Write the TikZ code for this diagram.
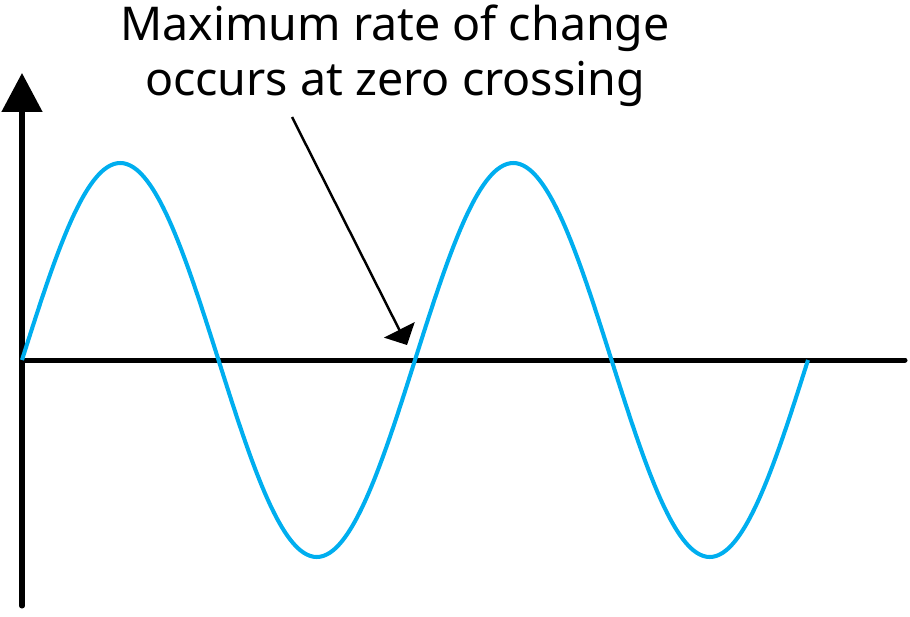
\documentclass[tikz,border=0pt]{standalone}
\usepackage{fontspec}
\setmainfont{Noto Sans}
\usetikzlibrary{arrows.meta}
\definecolor{wave}{HTML}{00AEEF}
\begin{document}
\begin{tikzpicture}[x=0.02cm,y=-0.02cm,
	axis/.style={line width=2.85pt,line cap=round},
	sine/.style={draw=wave,line width=2.3pt},
	every node/.style={inner sep=0pt,align=center,font=\fontsize{26.5}{31.2}\selectfont}]
	\useasboundingbox (0,0) rectangle (910,616);
	% axes
	\coordinate (o) at (22,360);
	\coordinate (ybot) at (22,606);
	\coordinate (ytop) at (22,73);
	\coordinate (xend) at (905,360);
	\draw[axis,-{Triangle[width=0.8cm,length=0.78cm]}] (ybot)--(ytop);
	\draw[axis] (o)--(xend);
	% wave
	\draw[sine,domain=0:786,samples=241,smooth] plot (\x+22,{360-197*sin(\x/393*360)});
	% note
	\node (note) at (395,56){Maximum rate of change\\occurs at zero crossing};
	\coordinate (tip) at (407,345);
	\draw[line width=1.4pt,-{Triangle[width=0.68cm,length=0.34cm]}] (292,117)--(tip);
\end{tikzpicture}
\end{document}
